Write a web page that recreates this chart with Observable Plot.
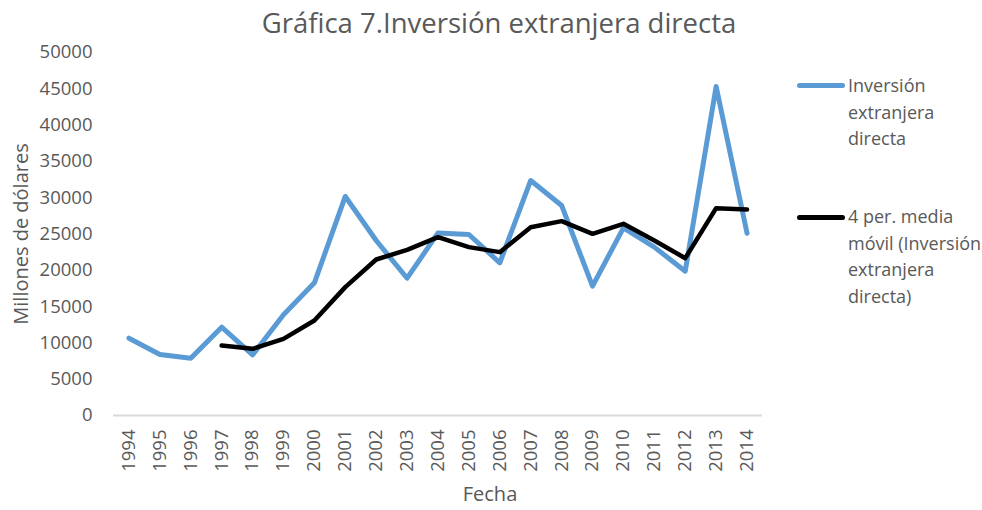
<!DOCTYPE html>
<html>
<head>
<meta charset="utf-8">
<script src="https://cdn.jsdelivr.net/npm/d3@7"></script>
<script src="https://cdn.jsdelivr.net/npm/@observablehq/plot@0.6"></script>
<style>
  html, body { margin: 0; padding: 0; background: #fff; }
  #wrap { position: relative; width: 982px; height: 510px; overflow: hidden; font-family: "Open Sans", sans-serif; color: #595959; }
  #title { position: absolute; left: 0; width: 998px; top: 5px; text-align: center; font-size: 27.5px; line-height: 36px; }
  #xlabel { position: absolute; left: 390px; width: 200px; top: 480px; text-align: center; font-size: 20px; line-height: 28px; }
  .leg { position: absolute; left: 797px; font-size: 18px; line-height: 26.5px; white-space: nowrap; }
  .leg .sw { position: absolute; left: 0; width: 48px; height: 5px; border-radius: 3px; }
  .leg .tx { position: absolute; left: 51px; top: 0; }
</style>
</head>
<body>
<div id="wrap">
  <div id="chart"></div>
  <div id="title">Gráfica 7.Inversión extranjera directa</div>
  <div id="xlabel">Fecha</div>
  <div class="leg" style="top:72px"><div class="sw" style="background:#5B9BD5;top:11px"></div><div class="tx">Inversión<br>extranjera<br>directa</div></div>
  <div class="leg" style="top:203px"><div class="sw" style="background:#000;top:12px"></div><div class="tx">4 per. media<br>móvil (Inversión<br>extranjera<br>directa)</div></div>
</div>
<script>
const years = [1994,1995,1996,1997,1998,1999,2000,2001,2002,2003,2004,2005,2006,2007,2008,2009,2010,2011,2012,2013,2014];
const ied = [10650,8400,7900,12160,8350,13870,18280,30170,24100,18910,25150,24930,21030,32370,28930,17810,25850,23190,19880,45320,25110];
const mediaMovil = [null,null,null,9640,9180,10560,13090,17680,21490,22820,24560,23190,22500,25940,26770,25020,26400,24100,21670,28560,28370];
const yTicks = [0,5000,10000,15000,20000,25000,30000,35000,40000,45000,50000];

const serieIed = years.map((y, i) => ({year: String(y), value: ied[i]}));
const serieMM = years.map((y, i) => ({year: String(y), value: mediaMovil[i]})).filter(d => d.value != null);

const chart = Plot.plot({
  width: 982,
  height: 510,
  marginLeft: 113,
  marginRight: 220,
  marginTop: 52,
  marginBottom: 95,
  style: {fontFamily: "Open Sans, sans-serif", fontSize: "18px", color: "#595959", background: "#fff"},
  x: {type: "point", domain: years.map(String), padding: 0.5, round: false, label: null},
  y: {domain: [0, 50000], label: null},
  marks: [
    Plot.axisY({ticks: yTicks, tickSize: 0, tickPadding: 21, tickFormat: d => String(d), label: null, fontSize: 18.5}),
    Plot.axisY({ticks: [], tickSize: 0, label: "Millones de dólares", labelArrow: "none", labelAnchor: "center", labelOffset: 100, fontSize: 20}),
    Plot.axisX({tickSize: 0, tickPadding: 14, tickRotate: -90, label: null, fontSize: 18.5}),
    Plot.ruleY([0], {stroke: "#d9d9d9", strokeWidth: 2}),
    Plot.line(serieIed, {x: "year", y: "value", stroke: "#5B9BD5", strokeWidth: 5, strokeLinejoin: "round", strokeLinecap: "round"}),
    Plot.line(serieMM, {x: "year", y: "value", stroke: "#000", strokeWidth: 4.5, strokeLinejoin: "round", strokeLinecap: "round"})
  ]
});
document.getElementById("chart").appendChild(chart);
</script>
</body>
</html>
